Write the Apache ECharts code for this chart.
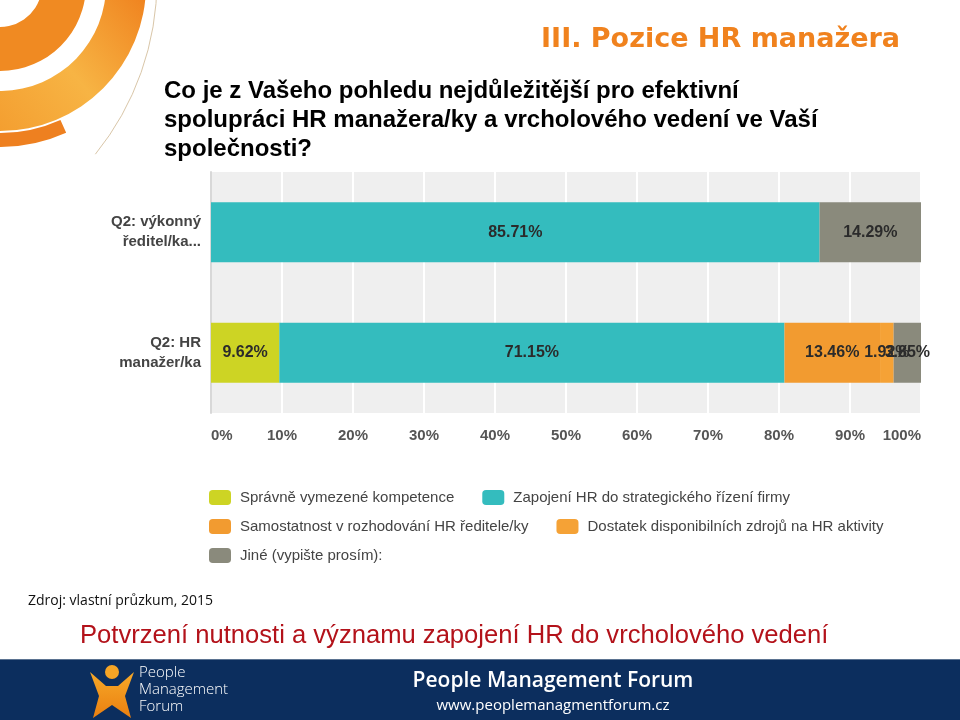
<!DOCTYPE html>
<html><head><meta charset="utf-8">
<script src="https://cdn.jsdelivr.net/npm/echarts@6/dist/echarts.min.js"></script>
<style>html,body{margin:0;padding:0;background:#fff}#c{width:960px;height:720px}</style>
</head><body><div id="c"></div>
<script>
var categories = ['Q2: výkonný\nředitel/ka...', 'Q2: HR\nmanažer/ka'];
var seriesNames = ['Správně vymezené kompetence', 'Zapojení HR do strategického řízení firmy', 'Samostatnost v rozhodování HR ředitele/ky', 'Dostatek disponibilních zdrojů na HR aktivity', 'Jiné (vypište prosím):'];
var spravne = ['-', 9.62];
var zapojeni = [85.71, 71.15];
var samostatnost = ['-', 13.46];
var dostatek = ['-', 1.92];
var jine = [14.29, 3.85];
var tickValues = [0,10,20,30,40,50,60,70,80,90,100];
var colors = ['#cdd424', '#34bcbe', '#f29b30', '#f5a236', '#8a8a7c'];
var values = [spravne, zapojeni, samostatnost, dostatek, jine];

var FONT = 'Liberation Sans, Arial, sans-serif';
var chart = echarts.init(document.getElementById('c'));
var series = seriesNames.map(function(n, i){
  return {
    name: n, type: 'bar', stack: 'all', data: values[i], barWidth: 60,
    itemStyle: {color: colors[i]},
    label: {show: true, position: 'inside', formatter: function(p){ return p.value + '%'; },
      color: '#2b2b2b', fontWeight: 'bold', fontSize: 16, fontFamily: FONT}
  };
});

function legendRow(names, top){
  return {data: names, orient: 'horizontal', left: 209, top: top, itemGap: 28, padding: 0,
    icon: 'roundRect', itemWidth: 22, itemHeight: 15, selectedMode: false,
    textStyle: {color: '#444', fontSize: 15, fontFamily: FONT, padding: [0,0,0,4]}};
}

var graphic = [
  // decorative swirl top-left
  {type:'sector', shape:{cx:0, cy:-15, r0:106, r:146, startAngle:0.0, endAngle:1.75}, style:{fill:new echarts.graphic.LinearGradient(1,0,0,1,[{offset:0,color:'#ef7f1c'},{offset:0.5,color:'#f7b444'},{offset:1,color:'#f39a2c'}])}, z:1},
  {type:'sector', shape:{cx:0, cy:-15, r0:42, r:86, startAngle:-0.1, endAngle:1.75}, style:{fill:'#f08a22'}, z:1},
  {type:'sector', shape:{cx:0, cy:-15, r0:148, r:162, startAngle:1.15, endAngle:1.75}, style:{fill:'#ee8020'}, z:1},
  {type:'arc', shape:{cx:-120, cy:-20, r:277, startAngle:0.0, endAngle:0.68}, style:{stroke:'#d9c6a8', lineWidth:1, fill:null}, z:1},
  // titles
  {type:'text', x:900, y:40, style:{text:'III. Pozice HR manažera', fill:'#f0821e', font:'bold 27px "DejaVu Sans", sans-serif', align:'right', verticalAlign:'middle'}},
  {type:'text', left:164, top:77, style:{text:'Co je z Vašeho pohledu nejdůležitější pro efektivní\nspolupráci HR manažera/ky a vrcholového vedení ve Vaší\nspolečnosti?', fill:'#000', font:'bold 24px ' + FONT, lineHeight:29}},
  {type:'text', left:28, top:594, style:{text:'Zdroj: vlastní průzkum, 2015', fill:'#111', font:'14px "Open Sans", sans-serif'}},
  {type:'text', x:80, y:636, style:{text:'Potvrzení nutnosti a významu zapojení HR do vrcholového vedení', fill:'#b3121a', font:'25.6px ' + FONT, verticalAlign:'middle'}},
  // footer
  {type:'rect', shape:{x:0, y:660, width:960, height:60}, style:{fill:'#0c2e5e'}},
  {type:'rect', shape:{x:0, y:659, width:960, height:1}, style:{fill:'#5b7391'}},
  {type:'text', x:553, y:681, style:{text:'People Management Forum', fill:'#fff', font:'600 21px "Open Sans", sans-serif', align:'center', verticalAlign:'middle'}},
  {type:'text', x:553, y:706, style:{text:'www.peoplemanagmentforum.cz', fill:'#fff', font:'15px "Open Sans", sans-serif', align:'center', verticalAlign:'middle'}},
  {type:'text', left:139, top:664, style:{text:'People\nManagement\nForum', fill:'#fff', font:'300 15px "Open Sans", sans-serif', lineHeight:17}},
  {type:'polygon', shape:{points:[[90,672],[106,686],[118,686],[134,672],[125,696],[131,718],[112,705],[93,718],[99,696]]}, style:{fill:new echarts.graphic.LinearGradient(0,0,0,1,[{offset:0,color:'#f7a928'},{offset:1,color:'#ea7f10'}])}},
  {type:'circle', shape:{cx:112, cy:672, r:7}, style:{fill:'#f6a526'}}
];

chart.setOption({
  animation: false,
  backgroundColor: '#fff',
  textStyle: {fontFamily: FONT},
  grid: {left: 211, right: 39, top: 172, height: 241, show: true, backgroundColor: '#efefef', borderWidth: 0, containLabel: false},
  xAxis: {type: 'value', min: 0, max: 100, interval: 10,
    axisLine: {show: false}, axisTick: {show: false},
    splitLine: {show: true, lineStyle: {color: '#ffffff', width: 2}},
    axisLabel: {formatter: function(v){ return v + '%'; }, color: '#555', fontWeight: 'bold', fontSize: 15, margin: 15, fontFamily: FONT,
      alignMinLabel: 'left', alignMaxLabel: 'right'}
  },
  yAxis: {type: 'category', data: categories, inverse: true,
    axisLine: {show: true, lineStyle: {color: '#d8d8d8', width: 2}}, axisTick: {show: false},
    axisLabel: {color: '#444', fontWeight: 'bold', fontSize: 15, lineHeight: 20, margin: 10, align: 'right', fontFamily: FONT}
  },
  legend: [
    legendRow([seriesNames[0], seriesNames[1]], 490),
    legendRow([seriesNames[2], seriesNames[3]], 519),
    legendRow([seriesNames[4]], 548)
  ],
  series: series,
  graphic: graphic
});
</script></body></html>
